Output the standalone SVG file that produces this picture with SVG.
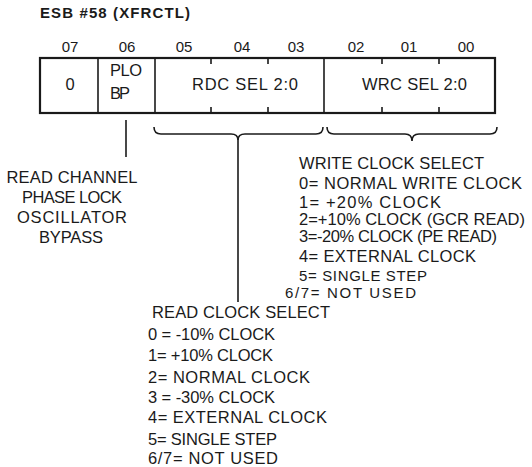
<svg xmlns="http://www.w3.org/2000/svg" width="532" height="467" viewBox="0 0 532 467">
<style>
  text { font-family: "Liberation Sans", Arial, sans-serif; fill: #1a1a1a; }
  .t { font-size: 16.5px; }
  .s { font-size: 15px; }
  .b { font-size: 15px; text-anchor: middle; }
  .c { font-size: 16.5px; text-anchor: middle; }
  .ttl { font-size: 15px; font-weight: bold; }
  .ln { stroke: #1a1a1a; stroke-width: 1.6; fill: none; }
  .box { stroke: #1a1a1a; stroke-width: 2.2; fill: #fff; }
</style>
<rect width="532" height="467" fill="#fff"/>
<text class="ttl" x="40" y="18" textLength="150" lengthAdjust="spacing">ESB #58 (XFRCTL)</text>

<g id="bits">
  <text class="b" x="70" y="52">07</text>
  <text class="b" x="127" y="52">06</text>
  <text class="b" x="184" y="52">05</text>
  <text class="b" x="242" y="52">04</text>
  <text class="b" x="296" y="52">03</text>
  <text class="b" x="356" y="52">02</text>
  <text class="b" x="409" y="52">01</text>
  <text class="b" x="466" y="52">00</text>
</g>

<g id="register">
  <rect class="box" x="40" y="58" width="455" height="55"/>
  <line class="ln" x1="98" y1="58" x2="98" y2="113"/>
  <line class="ln" x1="155" y1="58" x2="155" y2="113"/>
  <line class="ln" x1="324" y1="58" x2="324" y2="113"/>
  <path class="ln" d="M211 58v6M268 58v6M382 58v6M439 58v6M211 113v-6M268 113v-6M382 113v-6M439 113v-6"/>
</g>
<g id="bit7"><text class="c" x="70" y="90">0</text></g>
<g id="bit6">
  <text class="t" x="110" y="76" textLength="32" lengthAdjust="spacing">PLO</text>
  <text class="t" x="110" y="99" textLength="20" lengthAdjust="spacing">BP</text>
</g>
<g id="rdc"><text class="t" x="192" y="90" textLength="106" lengthAdjust="spacing">RDC SEL 2:0</text></g>
<g id="wrc"><text class="t" x="362" y="90" textLength="105" lengthAdjust="spacing">WRC SEL 2:0</text></g>

<g id="connectors">
  <line class="ln" x1="126" y1="120" x2="126" y2="157"/>
  <path class="ln" d="M154 127 Q154 134 161 134 L231 134 Q238 134 238 140 Q238 134 245 134 L316 134 Q323 134 323 127"/>
  <line class="ln" x1="238" y1="139" x2="238" y2="302"/>
  <path class="ln" d="M327 127 Q327 134 334 134 L405 134 Q412 134 412 141 Q412 134 419 134 L490 134 Q497 134 497 127"/>
</g>

<g id="plo-label">
  <text class="c" x="72" y="183" textLength="131" lengthAdjust="spacing">READ CHANNEL</text>
  <text class="c" x="72" y="203" textLength="100" lengthAdjust="spacing">PHASE LOCK</text>
  <text class="c" x="72" y="223" textLength="110" lengthAdjust="spacing">OSCILLATOR</text>
  <text class="c" x="71" y="243" textLength="64" lengthAdjust="spacing">BYPASS</text>
</g>

<g id="write-select">
  <text class="t" x="299" y="169" textLength="185" lengthAdjust="spacing">WRITE CLOCK SELECT</text>
  <text class="t" x="299" y="189" textLength="223" lengthAdjust="spacing">0= NORMAL WRITE CLOCK</text>
  <text class="t" x="299" y="208" textLength="142" lengthAdjust="spacing">1= +20% CLOCK</text>
  <text class="t" x="299" y="225" textLength="226" lengthAdjust="spacing">2=+10% CLOCK (GCR READ)</text>
  <text class="t" x="299" y="242" textLength="198" lengthAdjust="spacing">3=-20% CLOCK (PE READ)</text>
  <text class="t" x="299" y="262" textLength="177" lengthAdjust="spacing">4= EXTERNAL CLOCK</text>
  <text class="s" x="299" y="281" textLength="128" lengthAdjust="spacing">5= SINGLE STEP</text>
  <text class="s" x="285" y="298" textLength="131" lengthAdjust="spacing">6/7= NOT USED</text>
</g>

<g id="read-select">
  <text class="t" x="152" y="318" textLength="178" lengthAdjust="spacing">READ CLOCK SELECT</text>
  <text class="t" x="148" y="340" textLength="127" lengthAdjust="spacing">0 = -10% CLOCK</text>
  <text class="t" x="148" y="361" textLength="125" lengthAdjust="spacing">1= +10% CLOCK</text>
  <text class="t" x="148" y="383" textLength="162" lengthAdjust="spacing">2= NORMAL CLOCK</text>
  <text class="t" x="148" y="403" textLength="127" lengthAdjust="spacing">3 = -30% CLOCK</text>
  <text class="t" x="148" y="423" textLength="179" lengthAdjust="spacing">4= EXTERNAL CLOCK</text>
  <text class="t" x="148" y="445" textLength="129" lengthAdjust="spacing">5= SINGLE STEP</text>
  <text class="t" x="148" y="464" textLength="130" lengthAdjust="spacing">6/7= NOT USED</text>
</g>
</svg>
